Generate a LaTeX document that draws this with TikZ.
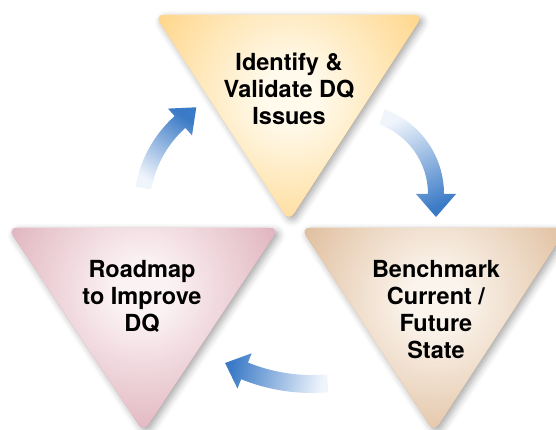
\documentclass[tikz,border=0pt]{standalone}
\usepackage{fontspec}
\setmainfont{TeX Gyre Heros}
\usetikzlibrary{shadows.blur}
\definecolor{ycol}{RGB}{255,200,100}
\definecolor{yin}{RGB}{255,250,236}
\definecolor{pcol}{RGB}{212,152,166}
\definecolor{pin}{RGB}{251,242,244}
\definecolor{bcol}{RGB}{212,168,126}
\definecolor{bin}{RGB}{251,244,236}
\definecolor{ablue}{RGB}{58,122,198}
\definecolor{amid}{RGB}{150,180,225}
\definecolor{alight}{RGB}{240,245,252}
\pgfdeclareradialshading{shadeY}{\pgfpoint{0bp}{0bp}}{color(0bp)=(yin); color(4bp)=(yin); color(30bp)=(ycol); color(50bp)=(ycol)}
\pgfdeclareradialshading{shadeP}{\pgfpoint{0bp}{0bp}}{color(0bp)=(pin); color(4bp)=(pin); color(30bp)=(pcol); color(50bp)=(pcol)}
\pgfdeclareradialshading{shadeB}{\pgfpoint{0bp}{0bp}}{color(0bp)=(bin); color(4bp)=(bin); color(30bp)=(bcol); color(50bp)=(bcol)}
\tikzset{
  tri/.style={rounded corners=9pt},
  trishadow/.style={blur shadow={shadow xshift=3pt,shadow yshift=-3pt,shadow blur radius=7pt,shadow opacity=35}},
  lbl/.style={font=\fontsize{23.5}{27}\selectfont\bfseries, align=center, inner sep=0pt, text=black},
  arrowshade/.style={bottom color=alight, middle color=amid, top color=ablue},
}
\begin{document}
\begin{tikzpicture}[x=1pt,y=1pt]
\useasboundingbox (0,0) rectangle (556,430);
\clip (0,0) rectangle (556,430);
% top triangle
\path[tri, trishadow, fill=ycol] (155,415) -- (423,415) -- (289,209) -- cycle;
\begin{scope}
  \clip[tri] (155,415) -- (423,415) -- (289,209) -- cycle;
  \shade[shading=shadeY] (290,335) circle[radius=170pt];
\end{scope}
% left triangle
\path[tri, trishadow, fill=pcol] (8,202) -- (279,202) -- (143.5,-2) -- cycle;
\begin{scope}
  \clip[tri] (8,202) -- (279,202) -- (143.5,-2) -- cycle;
  \shade[shading=shadeP] (142,140) circle[radius=170pt];
\end{scope}
% right triangle
\path[tri, trishadow, fill=bcol] (301,202) -- (567,202) -- (434,-2) -- cycle;
\begin{scope}
  \clip[tri] (301,202) -- (567,202) -- (434,-2) -- cycle;
  \shade[shading=shadeB] (436,130) circle[radius=170pt];
\end{scope}
% labels
\node[lbl] (t1) at (289,341.5) {Identify \&\\Validate DQ\\Issues};
\node[lbl] (t2) at (142,133.5) {Roadmap\\to Improve\\DQ};
\node[lbl] (t3) at (436,120.5) {Benchmark\\Current /\\Future\\State};
% arrows
\begin{scope}[shift={(257.6,221.8)}]
  \shade[arrowshade, shading angle=-33] (170:124) arc[start angle=170,end angle=132,radius=124pt] -- (132:134) -- (-61.3,100.9) -- (132:98) -- (132:108) arc[start angle=132,end angle=170,radius=108pt] -- cycle;
\end{scope}
\begin{scope}[shift={(354,236)}]
  \shade[arrowshade, shading angle=-154] (70:90) arc[start angle=70,end angle=0,radius=90pt] -- (0:102) -- (82,-23) -- (0:62) -- (0:74) arc[start angle=0,end angle=70,radius=74pt] -- cycle;
\end{scope}
\begin{scope}[shift={(312,226)}]
  \shade[arrowshade, shading angle=78.8] (-85:189) arc[start angle=-85,end angle=-112,radius=189pt] -- (-112:199) -- (-86.9,-159.0) -- (-112:161) -- (-112:171) arc[start angle=-112,end angle=-85,radius=171pt] -- cycle;
\end{scope}
\end{tikzpicture}
\end{document}
